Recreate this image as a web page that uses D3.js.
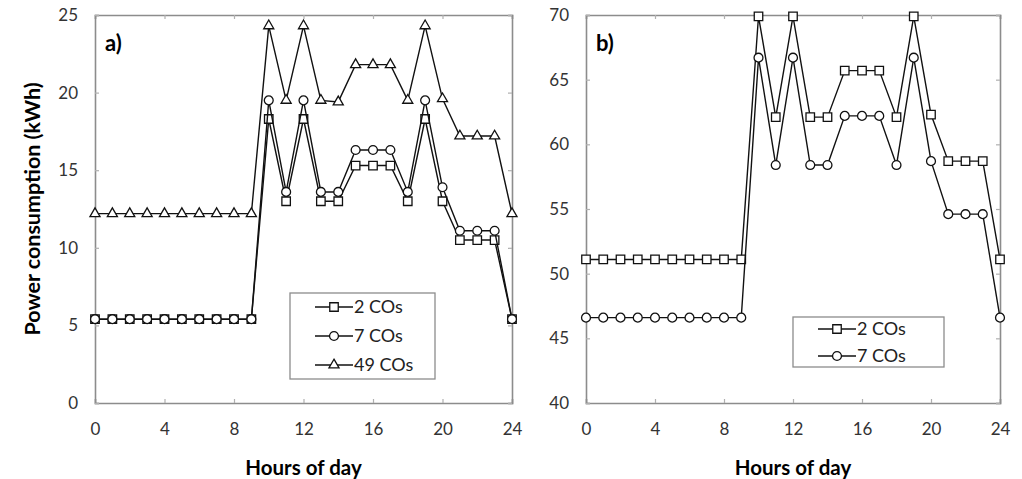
<!DOCTYPE html>
<html>
<head>
<meta charset="utf-8">
<script src="https://cdn.jsdelivr.net/npm/d3@7"></script>
<style>
body { margin: 0; background: #fff; }
text { font-family: Lato, "Open Sans", sans-serif; }
</style>
</head>
<body>
<div id="chart"></div>
<script>
var hours = [0,1,2,3,4,5,6,7,8,9,10,11,12,13,14,15,16,17,18,19,20,21,22,23,24]
var xTicks = [0, 4, 8, 12, 16, 20, 24]

// panel a)
var a2 = [5.4,5.4,5.4,5.4,5.4,5.4,5.4,5.4,5.4,5.4,18.3,13.0,18.3,13.0,13.0,15.3,15.3,15.3,13.0,18.3,13.0,10.5,10.5,10.5,5.4]
var a7 = [5.4,5.4,5.4,5.4,5.4,5.4,5.4,5.4,5.4,5.4,19.5,13.6,19.5,13.6,13.6,16.3,16.3,16.3,13.6,19.5,13.9,11.1,11.1,11.1,5.4]
var a49 = [12.2,12.2,12.2,12.2,12.2,12.2,12.2,12.2,12.2,12.2,24.3,19.5,24.3,19.5,19.4,21.8,21.8,21.8,19.5,24.3,19.6,17.2,17.2,17.2,12.2]
var aTicks = [0, 5, 10, 15, 20, 25]

// panel b)
var b2 = [51.1,51.1,51.1,51.1,51.1,51.1,51.1,51.1,51.1,51.1,69.9,62.1,69.9,62.1,62.1,65.7,65.7,65.7,62.1,69.9,62.3,58.7,58.7,58.7,51.1]
var b7 = [46.6,46.6,46.6,46.6,46.6,46.6,46.6,46.6,46.6,46.6,66.7,58.4,66.7,58.4,58.4,62.2,62.2,62.2,58.4,66.7,58.7,54.6,54.6,54.6,46.6]
var bTicks = [40, 45, 50, 55, 60, 65, 70]

var svg = d3.select("#chart").append("svg")
    .attr("width", 1022)
    .attr("height", 479)

var plotTop = 15, plotBottom = 403

var symbols = {
    "2 COs": d3.symbol().type(d3.symbolSquare).size(72),
    "7 COs": d3.symbol().type(d3.symbolCircle).size(62),
    "49 COs": d3.symbol().type(d3.symbolTriangle).size(44)
}

function panel(left, right, domain, yTicks, series, label, legendBox) {
    var x = d3.scaleLinear().domain([0, 24]).range([left, right])
    var y = d3.scaleLinear().domain(domain).range([plotBottom, plotTop])
    var g = svg.append("g")

    // ticks inside on all four sides
    g.append("g").attr("transform", "translate(0," + plotBottom + ")")
        .call(d3.axisBottom(x).tickValues(xTicks).tickSize(-4).tickPadding(20))
    g.append("g").attr("transform", "translate(0," + plotTop + ")")
        .call(d3.axisTop(x).tickValues(xTicks).tickSize(-4).tickFormat(""))
    g.append("g").attr("transform", "translate(" + left + ",0)")
        .call(d3.axisLeft(y).tickValues(yTicks).tickSize(-4).tickPadding(17))
    g.append("g").attr("transform", "translate(" + right + ",0)")
        .call(d3.axisRight(y).tickValues(yTicks).tickSize(-4).tickFormat(""))

    g.selectAll(".domain").attr("stroke", "#8c8c8c").attr("stroke-width", 1.6)
    g.selectAll(".tick line").attr("stroke", "#b0b0b0").attr("stroke-width", 1.2)
    g.selectAll(".tick text").attr("font-size", 17).attr("fill", "#333")
        .style("font-family", "Lato, sans-serif")

    var line = d3.line().x((d, i) => x(hours[i])).y(d => y(d))

    series.forEach(function (s) {
        g.append("path")
            .datum(s.values)
            .attr("d", line)
            .attr("fill", "none")
            .attr("stroke", "#111")
            .attr("stroke-width", 1.4)
        g.selectAll(null)
            .data(s.values)
            .enter()
            .append("path")
            .attr("d", symbols[s.name])
            .attr("transform", (d, i) => "translate(" + x(hours[i]) + "," + y(d) + ")")
            .attr("fill", "#fff")
            .attr("stroke", "#111")
            .attr("stroke-width", 1.3)
    })

    g.append("text")
        .text(label)
        .attr("x", left + 10)
        .attr("y", 51)
        .attr("font-size", 22)
        .attr("font-weight", 700)

    g.append("text")
        .text("Hours of day")
        .attr("x", (left + right) / 2)
        .attr("y", 475)
        .attr("text-anchor", "middle")
        .attr("font-size", 20.5)
        .attr("font-weight", 700)

    // legend
    var lg = g.append("g")
    lg.append("rect")
        .attr("x", legendBox[0]).attr("y", legendBox[1])
        .attr("width", legendBox[2]).attr("height", legendBox[3])
        .attr("fill", "#fff")
        .attr("stroke", "#8c8c8c")
        .attr("stroke-width", 1.3)
    series.forEach(function (s, i) {
        var ly = legendBox[4] + i * legendBox[5]
        var lx = legendBox[0] + 25
        lg.append("line")
            .attr("x1", lx).attr("x2", lx + 38)
            .attr("y1", ly).attr("y2", ly)
            .attr("stroke", "#111").attr("stroke-width", 1.4)
        lg.append("path")
            .attr("d", symbols[s.name])
            .attr("transform", "translate(" + (lx + 19) + "," + ly + ")")
            .attr("fill", "#fff").attr("stroke", "#111").attr("stroke-width", 1.3)
        lg.append("text")
            .text(s.name)
            .attr("x", lx + 39)
            .attr("y", ly + 6)
            .attr("font-size", 18)
            .attr("fill", "#222")
    })
}

panel(95, 512, [0, 25], aTicks,
    [{name: "2 COs", values: a2}, {name: "7 COs", values: a7}, {name: "49 COs", values: a49}],
    "a)", [290, 293, 145, 86, 307, 29])

panel(586, 1000, [40, 70], bTicks,
    [{name: "2 COs", values: b2}, {name: "7 COs", values: b7}],
    "b)", [793, 317, 151, 50, 329, 27])

svg.append("text")
    .text("Power consumption (kWh)")
    .attr("transform", "translate(40," + (plotTop + plotBottom) / 2 + ") rotate(-90)")
    .attr("text-anchor", "middle")
    .attr("font-size", 21.5)
    .attr("font-weight", 700)
</script>
</body>
</html>
